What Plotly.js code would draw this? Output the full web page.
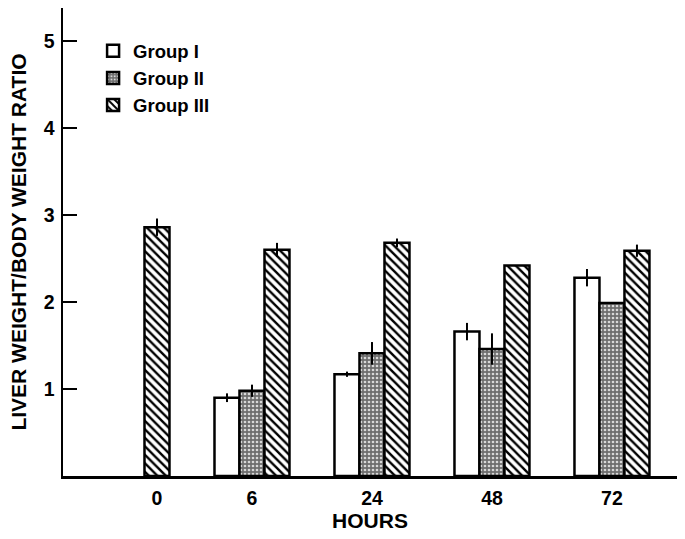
<!DOCTYPE html>
<html>
<head>
<meta charset="utf-8">
<script src="https://cdn.plot.ly/plotly-3.0.1.min.js"></script>
<style>html,body{margin:0;padding:0;background:#fff;}#chart{width:685px;height:539px;}</style>
</head>
<body>
<div id="chart"></div>
<script>
// Data
const hours = ['0', '6', '24', '48', '72'];
const groupI = [null, 0.90, 1.17, 1.66, 2.28];
const groupIErr = [null, 0.05, 0.03, 0.10, 0.10];
const groupII = [null, 0.98, 1.41, 1.46, 1.99];
const groupIIErr = [null, 0.07, 0.13, 0.18, 0.0];
const groupIII = [2.86, 2.60, 2.68, 2.42, 2.59];
const groupIIIErr = [0.10, 0.08, 0.05, 0.0, 0.07];
const seriesNames = ['Group I', 'Group II', 'Group III'];

const xIdx = hours.map((h, i) => i);
const bargap = 0.375;
const nGroups = 3;
const barW = (1 - bargap) / nGroups;
// tick label sits under the middle of the bars that exist in each category
const seriesVals = [groupI, groupII, groupIII];
const tickPos = hours.map((h, i) => {
  const offs = [];
  seriesVals.forEach((s, k) => { if (s[i] !== null) offs.push((k - (nGroups - 1) / 2) * barW); });
  return i + offs.reduce((a, b) => a + b, 0) / offs.length;
});

const line = {color: '#000', width: 2.5};
const err = arr => ({type: 'data', array: arr, symmetric: true, visible: true, color: '#000', thickness: 2, width: 0});

const traces = [
  {type: 'bar', name: seriesNames[0], x: xIdx, y: groupI, error_y: err(groupIErr),
   marker: {color: '#ffffff', line: line}},
  {type: 'bar', name: seriesNames[1], x: xIdx, y: groupII, error_y: err(groupIIErr),
   marker: {color: '#7a7a7a', line: line,
            pattern: {shape: '.', fgcolor: '#d8d8d8', bgcolor: '#6e6e6e', size: 4, solidity: 0.35}}},
  {type: 'bar', name: seriesNames[2], x: xIdx, y: groupIII, error_y: err(groupIIIErr),
   marker: {color: '#ffffff', line: line,
            pattern: {shape: '\\', fgcolor: '#000', bgcolor: '#fff', size: 6, solidity: 0.4}}}
];

const font = 'Liberation Sans, Arial, sans-serif';
const f = (size) => ({family: font, size: size, color: '#000', weight: 'bold'});
const layout = {
  width: 685, height: 539,
  margin: {l: 63, r: 8, t: 8, b: 63},
  paper_bgcolor: '#fff', plot_bgcolor: '#fff',
  barmode: 'group', bargap: bargap, bargroupgap: 0,
  font: f(19),
  showlegend: true,
  legend: {x: 0.049, y: 0.948, xanchor: 'left', yanchor: 'top', bgcolor: 'rgba(0,0,0,0)',
           font: f(18.5), tracegroupgap: 0},
  xaxis: {
    range: [-0.575, 4.542], showgrid: false, zeroline: false,
    showline: true, linecolor: '#000', linewidth: 2.5,
    tickmode: 'array', tickvals: tickPos, ticktext: hours, ticks: '',
    ticklabelstandoff: 3,
    tickfont: f(19.5),
    title: {text: 'HOURS', font: f(21), standoff: 5}
  },
  yaxis: {
    range: [0, 5.38], showgrid: false, zeroline: false,
    showline: true, linecolor: '#000', linewidth: 2.5,
    tickmode: 'array', tickvals: [1, 2, 3, 4, 5], ticktext: ['1', '2', '3', '4', '5'],
    ticks: 'inside', ticklen: 14, tickwidth: 2, tickcolor: '#000',
    ticklabelstandoff: 2,
    tickfont: f(19.5),
    title: {text: 'LIVER WEIGHT/BODY WEIGHT RATIO', font: f(21), standoff: 12}
  }
};

Plotly.newPlot('chart', traces, layout, {displayModeBar: false, staticPlot: true});
</script>
</body>
</html>
